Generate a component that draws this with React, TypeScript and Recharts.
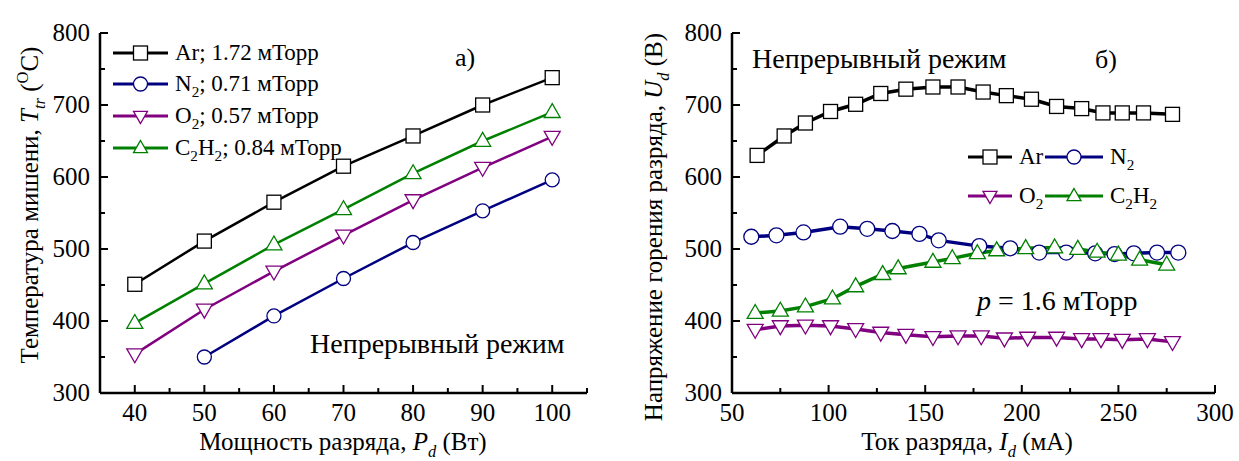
import React from 'react';
import { LineChart, Line, XAxis, YAxis } from 'recharts';

const FONT = "'Liberation Serif', 'Times New Roman', serif";

// а) target temperature vs discharge power
const powerW = [40, 50, 60, 70, 80, 90, 100];
const tempAr = [451, 511, 565, 615, 657, 700, 738];
const tempN2 = [null, 350, 407, 459, 509, 553, 596];
const tempO2 = [354, 416, 469, 519, 568, 613, 656];
const tempC2H2 = [397, 452, 506, 555, 605, 650, 690];

// б) discharge voltage vs discharge current
const currAr = [63, 77, 88, 101, 114, 127, 140, 154, 167, 180, 192, 205, 218, 231, 242, 252, 263, 278];
const voltAr = [630, 657, 675, 691, 701, 716, 722, 725, 725, 718, 713, 708, 698, 695, 689, 689, 689, 687];
const currN2 = [60, 73, 87, 106, 120, 133, 147, 157, 178, 194, 209, 223, 238, 248, 258, 270, 281];
const voltN2 = [517, 519, 523, 531, 528, 525, 521, 512, 504, 501, 495, 495, 494, 493, 494, 495, 495];
const currO2 = [62, 75, 88, 101, 114, 127, 140, 154, 167, 179, 191, 203, 218, 231, 241, 252, 265, 278];
const voltO2 = [388, 393, 394, 393, 389, 384, 381, 378, 379, 379, 376, 377, 377, 375, 375, 374, 375, 371];
const currC2H2 = [62, 75, 88, 102, 114, 128, 136, 154, 164, 177, 187, 202, 217, 229, 239, 250, 261, 275];
const voltC2H2 = [411, 414, 420, 431, 448, 465, 473, 482, 487, 494, 498, 501, 502, 500, 496, 492, 485, 478];

const xTicksA = [35, 40, 45, 50, 55, 60, 65, 70, 75, 80, 85, 90, 95, 100, 105];
const xTicksB = [50, 75, 100, 125, 150, 175, 200, 225, 250, 275, 300];
const yTicks = [300, 350, 400, 450, 500, 550, 600, 650, 700, 750, 800];

const C_AR = '#000000';
const C_N2 = '#000080';
const C_O2 = '#800080';
const C_C2H2 = '#008000';

const tableA = powerW.map((p, i) => ({
  p,
  ar: tempAr[i],
  n2: tempN2[i],
  o2: tempO2[i],
  c2h2: tempC2H2[i],
}));
const pairs = (xs: number[], ys: number[]) => xs.map((c, i) => ({ c, v: ys[i] }));

type Shape = 'square' | 'circle' | 'down' | 'up';

function Marker({ shape, color, cx, cy, s }: { shape: Shape; color: string; cx: number; cy: number; s: number }) {
  const common = { fill: '#fff', stroke: color, strokeWidth: 1.3 };
  if (shape === 'square') return <rect x={cx - s / 2} y={cy - s / 2} width={s} height={s} {...common} />;
  if (shape === 'circle') return <circle cx={cx} cy={cy} r={s / 2} {...common} />;
  const h = s * 0.87;
  const pts =
    shape === 'up'
      ? `${cx},${cy - h * 0.62} ${cx - s / 2},${cy + h * 0.38} ${cx + s / 2},${cy + h * 0.38}`
      : `${cx},${cy + h * 0.62} ${cx - s / 2},${cy - h * 0.38} ${cx + s / 2},${cy - h * 0.38}`;
  return <polygon points={pts} {...common} />;
}

const dotOf = (shape: Shape, color: string, s: number) => (p: any) => {
  if (p.cx == null || p.cy == null || p.value == null) return <g key={p.index} />;
  return (
    <g key={p.index}>
      <Marker shape={shape} color={color} cx={p.cx} cy={p.cy} s={s} />
    </g>
  );
};

// text pieces: [text, position, italic]
type Seg = [string, ('sub' | 'sup' | '')?, boolean?];

function rich(segs: Seg[], size: number) {
  let off = 0;
  return segs.map(([t, pos, it], i) => {
    const target = pos === 'sub' ? size * 0.28 : pos === 'sup' ? -size * 0.4 : 0;
    const dy = target - off;
    off = target;
    return (
      <tspan key={i} dy={dy} fontSize={pos ? size * 0.66 : size} fontStyle={it ? 'italic' : 'normal'}>
        {t}
      </tspan>
    );
  });
}

const xTick = (step: number, inward: 1 | -1, label: boolean) => (props: any) => {
  const { x, y, payload } = props;
  const v = payload.value;
  const major = v % step === 0;
  const len = major ? 8 : 5;
  return (
    <g>
      <line x1={x} x2={x} y1={y} y2={y + inward * len} stroke="#000" strokeWidth={2} />
      {label && major && (
        <text x={x} y={y + 28} textAnchor="middle" fontSize={25} fontFamily={FONT} fill="#000">
          {v}
        </text>
      )}
    </g>
  );
};

const yTick = (inward: 1 | -1, label: boolean) => (props: any) => {
  const { x, y, payload } = props;
  const v = payload.value;
  const major = v % 100 === 0;
  const len = major ? 8 : 5;
  return (
    <g>
      <line x1={x} x2={x + inward * len} y1={y} y2={y} stroke="#000" strokeWidth={2} />
      {label && major && (
        <text x={x - 10} y={y + 8} textAnchor="end" fontSize={25} fontFamily={FONT} fill="#000">
          {v}
        </text>
      )}
    </g>
  );
};

const axisLine = { stroke: '#000', strokeWidth: 2.5 };
const txt = { fontFamily: FONT, fill: '#000' };

function LegendRow({ x, y, shape, color, width, segs }: any) {
  return (
    <g>
      <line x1={x} x2={x + width} y1={y} y2={y} stroke={color} strokeWidth={3} />
      <Marker shape={shape} color={color} cx={x + width / 2} cy={y} s={14} />
      <text x={x + width + 7} y={y + 7} fontSize={23} {...txt}>
        {rich(segs, 23)}
      </text>
    </g>
  );
}

export default function App() {
  return (
    <div style={{ position: 'absolute', left: 0, top: 0, width: 1239, height: 461, background: '#fff' }}>
      <div style={{ position: 'absolute', left: 0, top: 0 }}>
        <LineChart width={620} height={461} data={tableA} margin={{ top: 33, right: 33, bottom: 0, left: 0 }}>
          <XAxis
            dataKey="p"
            type="number"
            domain={[35, 105]}
            ticks={xTicksA}
            interval={0}
            height={68}
            tickSize={0}
            tickMargin={0}
            tickLine={false}
            axisLine={axisLine}
            tick={xTick(10, -1, true)}
          />
          <XAxis
            xAxisId="top"
            orientation="top"
            dataKey="p"
            type="number"
            domain={[35, 105]}
            ticks={xTicksA}
            interval={0}
            height={0}
            tickSize={0}
            tickMargin={0}
            tickLine={false}
            axisLine={axisLine}
            tick={xTick(10, 1, false)}
          />
          <YAxis
            type="number"
            domain={[300, 800]}
            ticks={yTicks}
            interval={0}
            width={100}
            tickSize={0}
            tickMargin={0}
            tickLine={false}
            axisLine={axisLine}
            tick={yTick(1, true)}
          />
          <YAxis
            yAxisId="right"
            orientation="right"
            type="number"
            domain={[300, 800]}
            ticks={yTicks}
            interval={0}
            width={0}
            tickSize={0}
            tickMargin={0}
            tickLine={false}
            axisLine={axisLine}
            tick={yTick(-1, false)}
          />
          <Line dataKey="ar" stroke={C_AR} strokeWidth={2.5} isAnimationActive={false} dot={dotOf('square', C_AR, 14)} />
          <Line dataKey="c2h2" stroke={C_C2H2} strokeWidth={2.5} isAnimationActive={false} dot={dotOf('up', C_C2H2, 16)} />
          <Line dataKey="o2" stroke={C_O2} strokeWidth={2.5} isAnimationActive={false} dot={dotOf('down', C_O2, 16)} />
          <Line dataKey="n2" stroke={C_N2} strokeWidth={2.5} isAnimationActive={false} dot={dotOf('circle', C_N2, 14)} />

          <LegendRow x={113} y={53} shape="square" color={C_AR} width={55} segs={[['Ar; 1.72 мТорр']]} />
          <LegendRow x={113} y={84} shape="circle" color={C_N2} width={55} segs={[['N'], ['2', 'sub'], ['; 0.71 мТорр']]} />
          <LegendRow x={113} y={116} shape="down" color={C_O2} width={55} segs={[['O'], ['2', 'sub'], ['; 0.57 мТорр']]} />
          <LegendRow
            x={113}
            y={148}
            shape="up"
            color={C_C2H2}
            width={55}
            segs={[['C'], ['2', 'sub'], ['H'], ['2', 'sub'], ['; 0.84 мТорр']]}
          />

          <text x={455} y={66} fontSize={26} {...txt}>
            а)
          </text>
          <text x={310} y={353} fontSize={28} {...txt}>
            Непрерывный режим
          </text>
          <text x={343} y={450} textAnchor="middle" {...txt}>
            {rich([['Мощность разряда, '], ['P', '', true], ['d', 'sub', true], [' (Вт)']], 25)}
          </text>
          <text x={0} y={0} textAnchor="middle" transform="translate(38,205) rotate(-90)" {...txt}>
            {rich([['Температура мишени, '], ['T', '', true], ['tr', 'sub', true], [' ('], ['O', 'sup'], ['C)']], 25)}
          </text>
        </LineChart>
      </div>

      <div style={{ position: 'absolute', left: 620, top: 0 }}>
        <LineChart width={619} height={461} margin={{ top: 33, right: 24, bottom: 0, left: 0 }}>
          <XAxis
            dataKey="c"
            type="number"
            domain={[50, 300]}
            ticks={xTicksB}
            interval={0}
            height={68}
            tickSize={0}
            tickMargin={0}
            tickLine={false}
            axisLine={axisLine}
            tick={xTick(50, -1, true)}
            allowDuplicatedCategory={false}
          />
          <XAxis
            xAxisId="top"
            orientation="top"
            dataKey="c"
            type="number"
            domain={[50, 300]}
            ticks={xTicksB}
            interval={0}
            height={0}
            tickSize={0}
            tickMargin={0}
            tickLine={false}
            axisLine={axisLine}
            tick={xTick(50, 1, false)}
          />
          <YAxis
            type="number"
            domain={[300, 800]}
            ticks={yTicks}
            interval={0}
            width={112}
            tickSize={0}
            tickMargin={0}
            tickLine={false}
            axisLine={axisLine}
            tick={yTick(1, true)}
          />
          <YAxis
            yAxisId="right"
            orientation="right"
            type="number"
            domain={[300, 800]}
            ticks={yTicks}
            interval={0}
            width={0}
            tickSize={0}
            tickMargin={0}
            tickLine={false}
            axisLine={axisLine}
            tick={yTick(-1, false)}
          />
          <Line data={pairs(currAr, voltAr)} dataKey="v" stroke={C_AR} strokeWidth={3.5} isAnimationActive={false} dot={dotOf('square', C_AR, 14)} />
          <Line data={pairs(currO2, voltO2)} dataKey="v" stroke={C_O2} strokeWidth={3.5} isAnimationActive={false} dot={dotOf('down', C_O2, 16)} />
          <Line data={pairs(currN2, voltN2)} dataKey="v" stroke={C_N2} strokeWidth={3.5} isAnimationActive={false} dot={dotOf('circle', C_N2, 15)} />
          <Line data={pairs(currC2H2, voltC2H2)} dataKey="v" stroke={C_C2H2} strokeWidth={3.5} isAnimationActive={false} dot={dotOf('up', C_C2H2, 16)} />

          <LegendRow x={348} y={157} shape="square" color={C_AR} width={44} segs={[['Ar']]} />
          <LegendRow x={425} y={157} shape="circle" color={C_N2} width={58} segs={[['N'], ['2', 'sub']]} />
          <LegendRow x={348} y={196} shape="down" color={C_O2} width={44} segs={[['O'], ['2', 'sub']]} />
          <LegendRow x={425} y={196} shape="up" color={C_C2H2} width={58} segs={[['C'], ['2', 'sub'], ['H'], ['2', 'sub']]} />

          <text x={132} y={68} fontSize={28} {...txt}>
            Непрерывный режим
          </text>
          <text x={475} y={68} fontSize={26} {...txt}>
            б)
          </text>
          <text x={357} y={310} {...txt}>
            {rich([['p', '', true], [' = 1.6 мТорр']], 28)}
          </text>
          <text x={347} y={450} textAnchor="middle" {...txt}>
            {rich([['Ток разряда, '], ['I', '', true], ['d', 'sub', true], [' (мА)']], 25)}
          </text>
          <text x={0} y={0} textAnchor="middle" transform="translate(42,227) rotate(-90)" {...txt}>
            {rich([['Напряжение горения разряда, '], ['U', '', true], ['d', 'sub', true], [' (В)']], 25)}
          </text>
        </LineChart>
      </div>
    </div>
  );
}
